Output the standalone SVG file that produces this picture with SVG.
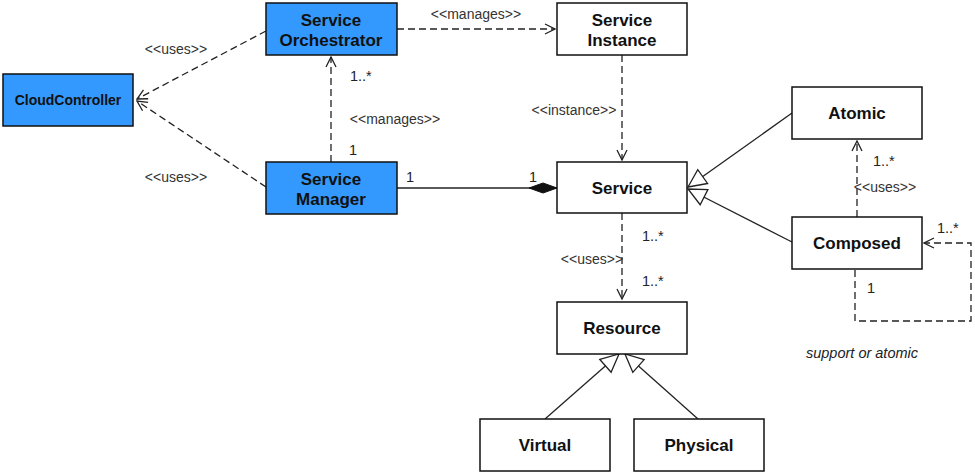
<svg xmlns="http://www.w3.org/2000/svg" width="975" height="475" viewBox="0 0 975 475">
<defs>
<style>
.box{fill:#ffffff;stroke:#111;stroke-width:1.5}
.blue{fill:#3399FF;stroke:#111;stroke-width:1.5}
.t{font-family:"Liberation Sans",Arial,sans-serif;font-weight:bold;font-size:17px;fill:#111;text-anchor:middle}
.tc{font-family:"Liberation Sans",Arial,sans-serif;font-weight:bold;font-size:14px;fill:#111;text-anchor:middle}
.ln{fill:none;stroke:#222;stroke-width:1.3}
.dash{fill:none;stroke:#222;stroke-width:1.3;stroke-dasharray:7 4}
.lab{font-family:"Liberation Sans",Arial,sans-serif;font-size:14px;fill:#333;text-anchor:middle}
.mul{font-family:"Liberation Sans",Arial,sans-serif;font-size:14.5px;fill:#222}
.note{font-family:"Liberation Sans",Arial,sans-serif;font-size:14.5px;font-style:italic;fill:#222;text-anchor:middle}
</style>
<marker id="open" markerUnits="userSpaceOnUse" markerWidth="12" markerHeight="12" viewBox="0 0 12 12" refX="11" refY="6" orient="auto">
<path d="M1,1 L11,6 L1,11" fill="none" stroke="#222" stroke-width="1.3"/>
</marker>
<marker id="tri" markerUnits="userSpaceOnUse" markerWidth="22" markerHeight="22" viewBox="0 0 22 22" refX="20" refY="11" orient="auto">
<path d="M2,2.5 L20,11 L2,19.5 Z" fill="#ffffff" stroke="#222" stroke-width="1.3"/>
</marker>
<marker id="dia" markerUnits="userSpaceOnUse" markerWidth="30" markerHeight="12" viewBox="0 0 30 12" refX="29" refY="6" orient="auto">
<path d="M1,6 L15,1 L29,6 L15,11 Z" fill="#111" stroke="#111" stroke-width="1"/>
</marker>
</defs>

<g id="connectors">
<line class="dash" x1="266" y1="31" x2="137" y2="99" marker-end="url(#open)"/>
<line class="dash" x1="266" y1="187" x2="137" y2="101" marker-end="url(#open)"/>
<line class="dash" x1="331" y1="162" x2="331" y2="57" marker-end="url(#open)"/>
<line class="dash" x1="397" y1="29" x2="555" y2="29" marker-end="url(#open)"/>
<line class="dash" x1="622" y1="55" x2="622" y2="160" marker-end="url(#open)"/>
<line class="ln" x1="397" y1="188" x2="557" y2="188" marker-end="url(#dia)"/>
<line class="ln" x1="792" y1="113" x2="688" y2="187" marker-end="url(#tri)"/>
<line class="ln" x1="792" y1="242" x2="688" y2="189" marker-end="url(#tri)"/>
<line class="dash" x1="857" y1="217" x2="857" y2="141" marker-end="url(#open)"/>
<polyline class="dash" points="855,270 855,321 971,321 971,243 924,243" marker-end="url(#open)"/>
<line class="dash" x1="622" y1="213" x2="622" y2="299" marker-end="url(#open)"/>
<line class="ln" x1="545" y1="419" x2="619" y2="354" marker-end="url(#tri)"/>
<line class="ln" x1="698" y1="419" x2="625" y2="354" marker-end="url(#tri)"/>

<text class="lab" x="176" y="54">&lt;&lt;uses&gt;&gt;</text>
<text class="lab" x="176" y="182">&lt;&lt;uses&gt;&gt;</text>
<text class="mul" x="350" y="81">1..*</text>
<text class="lab" x="395" y="124">&lt;&lt;manages&gt;&gt;</text>
<text class="mul" x="349" y="155">1</text>
<text class="lab" x="476" y="19">&lt;&lt;manages&gt;&gt;</text>
<text class="lab" x="574" y="115">&lt;&lt;instance&gt;&gt;</text>
<text class="mul" x="406" y="182">1</text>
<text class="mul" x="529" y="182">1</text>
<text class="mul" x="873" y="166">1..*</text>
<text class="lab" x="885" y="192">&lt;&lt;uses&gt;&gt;</text>
<text class="mul" x="937" y="233">1..*</text>
<text class="mul" x="867" y="293">1</text>
<text class="note" x="862" y="358">support or atomic</text>
<text class="mul" x="642" y="241">1..*</text>
<text class="lab" x="592" y="264">&lt;&lt;uses&gt;&gt;</text>
<text class="mul" x="642" y="286">1..*</text>
</g>

<g id="cloudcontroller">
<rect class="blue" x="3" y="74" width="130" height="52"/>
<text class="tc" x="68" y="105">CloudController</text>
</g>
<g id="orchestrator">
<rect class="blue" x="266" y="3" width="131" height="52"/>
<text class="t" x="331" y="26">Service</text>
<text class="t" x="331" y="46">Orchestrator</text>
</g>
<g id="manager">
<rect class="blue" x="266" y="162" width="131" height="52"/>
<text class="t" x="331" y="185">Service</text>
<text class="t" x="331" y="205">Manager</text>
</g>
<g id="instance">
<rect class="box" x="557" y="3" width="130" height="52"/>
<text class="t" x="622" y="26">Service</text>
<text class="t" x="622" y="46">Instance</text>
</g>
<g id="service">
<rect class="box" x="557" y="162" width="130" height="51"/>
<text class="t" x="622" y="194">Service</text>
</g>
<g id="atomic">
<rect class="box" x="792" y="87" width="130" height="52"/>
<text class="t" x="857" y="119">Atomic</text>
</g>
<g id="composed">
<rect class="box" x="792" y="217" width="130" height="52"/>
<text class="t" x="857" y="249">Composed</text>
</g>
<g id="resource">
<rect class="box" x="557" y="302" width="130" height="52"/>
<text class="t" x="622" y="334">Resource</text>
</g>
<g id="virtual">
<rect class="box" x="480" y="419" width="130" height="52"/>
<text class="t" x="545" y="451">Virtual</text>
</g>
<g id="physical">
<rect class="box" x="634" y="419" width="130" height="52"/>
<text class="t" x="699" y="451">Physical</text>
</g>
</svg>
